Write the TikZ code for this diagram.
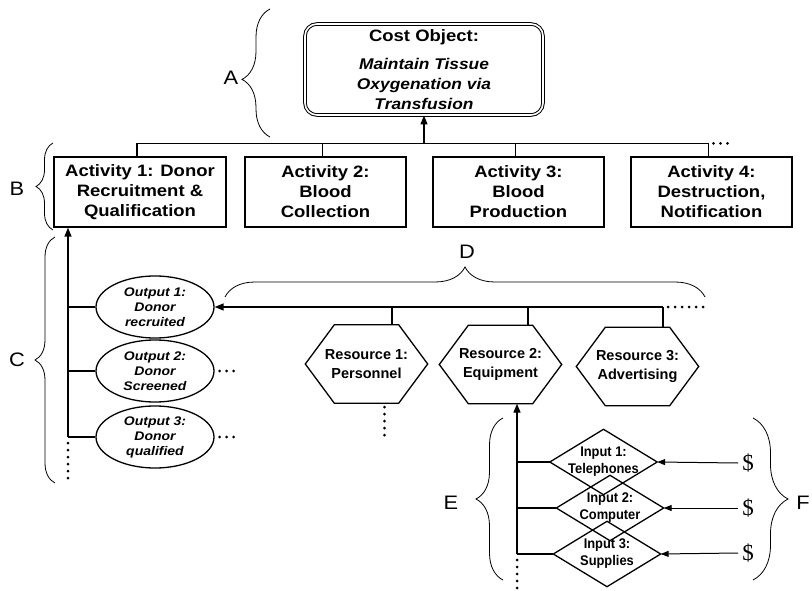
\documentclass[tikz,border=0pt]{standalone}
\usepackage{fontspec}
\setmainfont{Liberation Sans}
\newfontfamily\widefont[FakeStretch=1.12]{Liberation Sans}
\newfontfamily\narrowfont[FakeStretch=0.92]{Liberation Sans}
\newfontfamily\dollarfont{Liberation Serif}
\usetikzlibrary{shapes.geometric,arrows.meta,decorations.pathreplacing,calc}
\begin{document}
\begin{tikzpicture}[x=1pt,y=-1pt,
  conn/.style={line width=1.4pt},
  thinconn/.style={line width=1.1pt},
  arr/.style={line width=1.4pt,-{Triangle[length=9pt,width=7pt]}},
  thinarr/.style={line width=1pt,-{Triangle[length=8pt,width=6pt]}},
  dotline/.style={line width=3pt,line cap=round,dash pattern=on 0pt off 7pt},
  brc/.style={decorate,line width=0.8pt},
  actbox/.style={draw,line width=1.3pt,minimum height=70pt,inner sep=0pt,align=center,
    font=\widefont\bfseries\fontsize{16.5}{20}\selectfont},
  outell/.style={draw,ellipse,line width=1.3pt,minimum width=118pt,minimum height=62pt,inner sep=0pt,align=center,
    font=\widefont\bfseries\itshape\fontsize{12.5}{15}\selectfont},
  hexnode/.style={minimum width=122pt,minimum height=78pt,inner sep=0pt,align=center,
    font=\bfseries\fontsize{14.5}{19}\selectfont},
  dianode/.style={minimum width=107pt,minimum height=65pt,inner sep=0pt,align=center,
    font=\narrowfont\bfseries\fontsize{14}{17}\selectfont},
  shapeline/.style={line width=1.3pt,line join=miter},
  lab/.style={font=\widefont\fontsize{19.5}{20}\selectfont},
  dollar/.style={font=\dollarfont\fontsize{23}{24}\selectfont,inner sep=0pt}
]
\useasboundingbox (0,0) rectangle (812,591);

% cost object
\node[draw,double,line width=1pt,double distance=1.6pt,rounded corners=12pt,
  minimum width=238pt,minimum height=91pt,inner sep=0pt,align=center,
  font=\widefont\bfseries\itshape\fontsize{15.5}{20}\selectfont] (cost) at (424,69.5)
  {{\upshape\fontsize{16.5}{20}\selectfont Cost Object:}\\[8pt]Maintain Tissue\\Oxygenation via\\Transfusion};

% activities
\node[actbox,minimum width=172pt] (act1) at (140,192) {Activity 1: Donor\\Recruitment \&\\Qualification};
\node[actbox,minimum width=161pt] (act2) at (325.5,192) {Activity 2:\\Blood\\Collection};
\node[actbox,minimum width=171pt] (act3) at (518.5,192) {Activity 3:\\Blood\\Production};
\node[actbox,minimum width=161pt] (act4) at (711.5,192) {Activity 4:\\Destruction,\\Notification};

\coordinate (busL) at ($(act1.north)+(-3,-13)$);
\coordinate (busR) at ($(act4.north)+(-3,-13)$);
\draw[conn] (busL) -- (busR);
\foreach \a in {act1,act2,act3,act4}
  \draw[conn] ([xshift=-3pt]\a.north) -- ++(0,-13);
\draw[arr] (cost.south |- busL) -- (cost.south);
\draw[dotline] ($(busR)+(5,0)$) -- ($(busR)+(26,0)$);

% outputs
\node[outell] (out1) at (155,307) {Output 1:\\Donor\\recruited};
\node[outell] (out2) at (155,371) {Output 2:\\Donor\\Screened};
\node[outell] (out3) at (155,437) {Output 3:\\Donor\\qualified};
\coordinate (cb) at (68,437);
\draw[arr] (cb) -- (cb |- act1.south);
\foreach \o in {out1,out2,out3}
  \draw[thinconn] (cb |- \o.west) -- (\o.west);
\draw[dotline] ($(cb)+(0,6)$) -- ++(0,40);
\draw[dotline] ($(out2.east)+(5,0)$) -- ++(19,0);
\draw[dotline] ($(out3.east)+(5,0)$) -- ++(19,0);

% resources
\node[hexnode] (res1) at (366.5,364) {Resource 1:\\Personnel};
\node[hexnode] (res2) at (500.5,364.5) {Resource 2:\\Equipment};
\node[hexnode] (res3) at (637.5,366.5) {Resource 3:\\Advertising};
\foreach \n in {res1,res2,res3}
  \draw[shapeline] (\n.west) -- ([xshift=29pt]\n.north west) -- ([xshift=-29pt]\n.north east)
    -- (\n.east) -- ([xshift=-29pt]\n.south east) -- ([xshift=29pt]\n.south west) -- cycle;
\coordinate (rbR) at (663,307);
\draw[arr] (rbR) -- (out1.east);
\coordinate (rv1) at (392,307);
\coordinate (rv2) at (528,307);
\draw[conn] (rv1) -- (rv1 |- res1.north);
\draw[conn] (rv2) -- (rv2 |- res2.north);
\draw[conn] (rbR) -- (rbR |- res3.north);
\draw[dotline] ($(rbR)+(5,0)$) -- ++(42,0);
\draw[dotline] ([xshift=18pt,yshift=-4pt]res1.south) -- ++(0,30);

% inputs
\node[dianode] (in1) at (603.5,462) {Input 1:\\Telephones};
\node[dianode] (in2) at (610,508) {Input 2:\\Computer};
\node[dianode] (in3) at (607,554) {Input 3:\\Supplies};
\foreach \n in {in1,in2,in3}
  \draw[shapeline] (\n.west) -- (\n.north) -- (\n.east) -- (\n.south) -- cycle;
\coordinate (eb) at (517,554);
\draw[arr] (eb) -- (eb |- res2.south);
\foreach \n in {in1,in2,in3}
  \draw[thinconn] (eb |- \n.west) -- (\n.west);
\draw[dotline] ($(eb)+(0,6)$) -- ++(0,32);

\node[dollar] (usd1) at (748,463) {\$};
\node[dollar] (usd2) at (748,508) {\$};
\node[dollar] (usd3) at (748,553) {\$};
\draw[thinarr] (usd1.west -| 738,0) -- (in1.east);
\draw[thinarr] (usd2.west -| 738,0) -- (in2.east);
\draw[thinarr] (usd3.west -| 738,0) -- (in3.east);

% braces and labels
\draw[brc,decoration={brace,amplitude=28pt,aspect=0.45}] (270,137) -- (270,9);
\node[lab] (labA) at (231,78) {A};
\draw[brc,decoration={brace,amplitude=17pt}] (53,230) -- (53,143);
\node[lab] (labB) at (17,189) {B};
\draw[brc,decoration={brace,amplitude=20pt}] (55,483) -- (55,237);
\node[lab] (labC) at (17,360) {C};
\draw[brc,decoration={brace,amplitude=30pt}] (225,297) -- (705,297);
\node[lab] (labD) at (467,252) {D};
\draw[brc,decoration={brace,amplitude=27pt}] (503,580) -- (503,418);
\node[lab] (labE) at (451,503) {E};
\draw[brc,decoration={brace,amplitude=35pt}] (753,418) -- (753,580);
\node[lab] (labF) at (803,503) {F};
\end{tikzpicture}
\end{document}
